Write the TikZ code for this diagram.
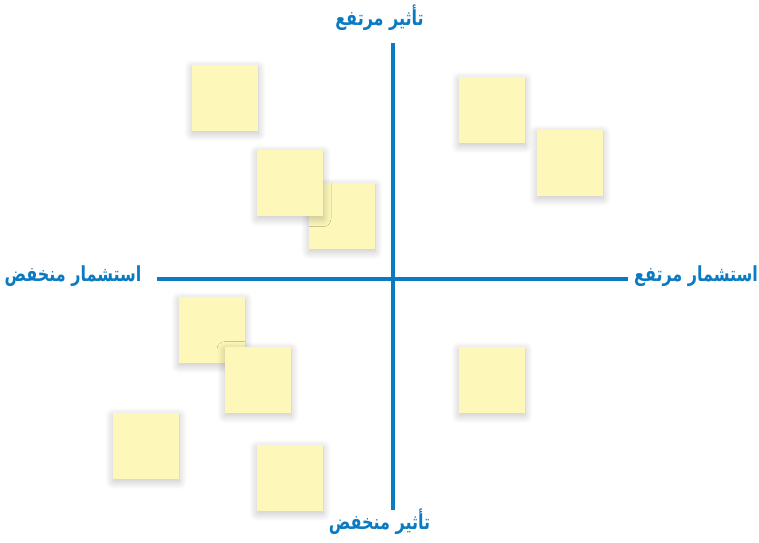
\documentclass[tikz,border=0pt]{standalone}
\usepackage{fontspec}
\usepackage{tikz}
\usetikzlibrary{shadows.blur}
\newfontfamily\arabicfont[Script=Arabic]{DejaVu Sans}
\TeXXeTstate=1
\definecolor{AxisBlue}{HTML}{0A7BC2}
\definecolor{NoteYellow}{HTML}{FDF8B9}
\newcommand{\artext}[1]{\scalebox{1}[1.3]{\beginR #1\endR}}

\begin{document}
\begin{tikzpicture}[x=0.75pt, y=-0.75pt,
    note/.style={fill=NoteYellow, minimum size=49.5pt, inner sep=0pt, outer sep=0pt,
      blur shadow={shadow xshift=0pt, shadow yshift=-2pt, shadow blur radius=6pt,
        shadow blur steps=14, shadow opacity=24}},
    axislabel/.style={text=AxisBlue, font=\arabicfont\bfseries\fontsize{12}{14}\selectfont, inner sep=1pt},
    axisline/.style={draw=AxisBlue, line width=3pt}
  ]
    \useasboundingbox (0,0) rectangle (759,542);

    % labels
    \node[axislabel] (hiimp) at (379.5, 18) {\artext{تأثير مرتفع}};
    \node[axislabel] (loimp) at (379.5, 522) {\artext{تأثير منخفض}};
    \node[axislabel] (loinv) at (73, 276) {\artext{استشمار منخفض}};
    \node[axislabel] (hiinv) at (696, 276) {\artext{استشمار مرتفع}};

    % axes
    \coordinate (ytop) at (393, 43);
    \coordinate (ybot) at (393, 510);
    \coordinate (xlft) at (157, 279);
    \coordinate (xrgt) at (628, 279);
    \draw[axisline] (ytop) -- (ybot);
    \draw[axisline] (xlft) -- (xrgt);

    % sticky notes
    \node[note] (p1) at (225, 98) {};
    \node[note] (p3) at (342, 216) {};
    \node[note] (p2) at (290, 183) {};
    \node[note] (p4) at (492, 110) {};
    \node[note] (p5) at (570, 163) {};
    \node[note] (p6) at (212, 330) {};
    \node[note] (p7) at (258, 380) {};
    \node[note] (p8) at (492, 380) {};
    \node[note] (p9) at (146, 446) {};
    \node[note] (p10) at (290, 478) {};
  \end{tikzpicture}
\end{document}
